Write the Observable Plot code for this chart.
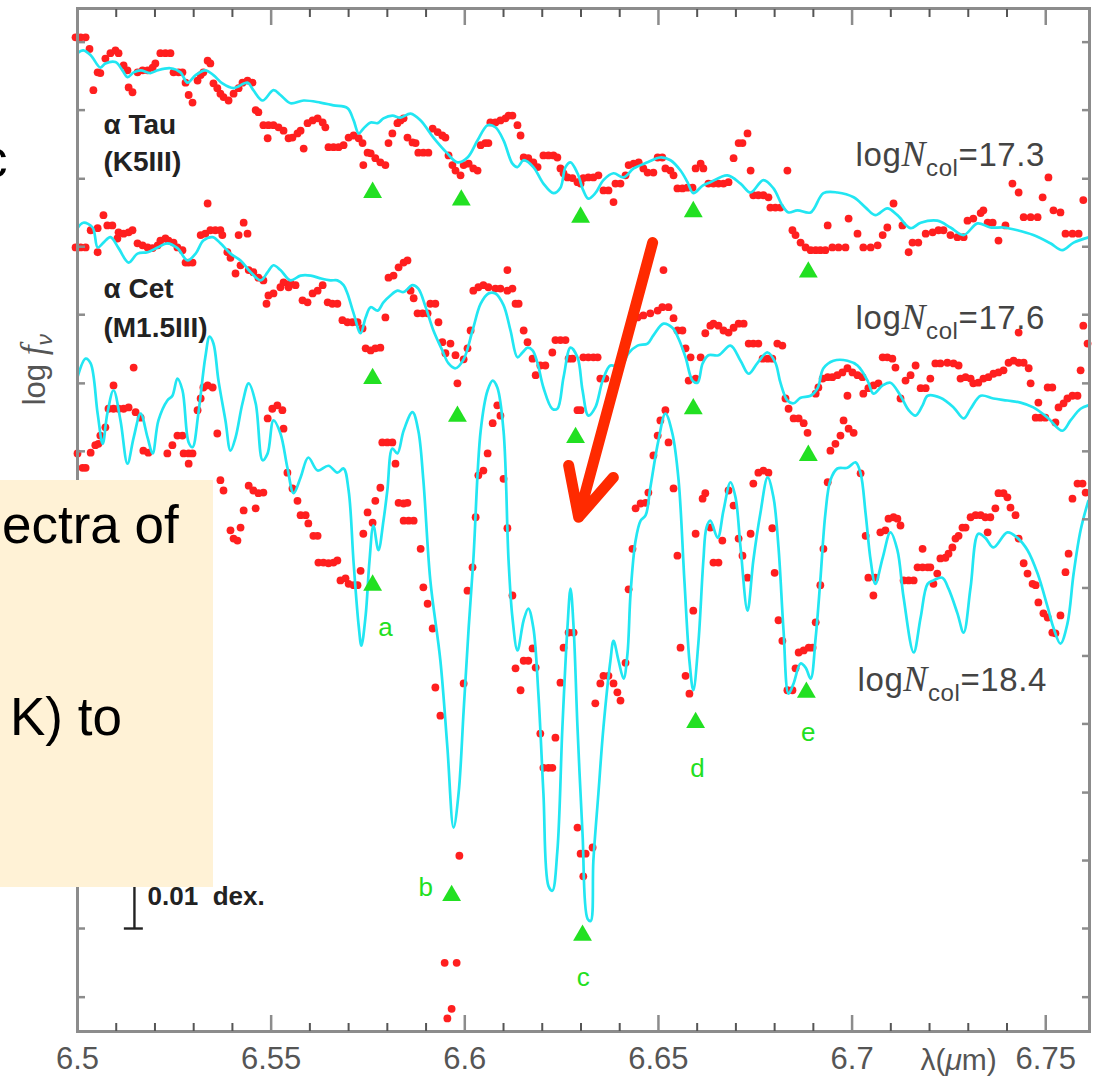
<!DOCTYPE html>
<html>
<head>
<meta charset="utf-8">
<script src="https://cdn.jsdelivr.net/npm/d3@7"></script>
<script src="https://cdn.jsdelivr.net/npm/@observablehq/plot@0.6"></script>
<style>
  html, body { margin: 0; padding: 0; background: #fff; }
  #wrap { position: relative; width: 1099px; height: 1084px; overflow: hidden; font-family: "Liberation Sans", Arial, sans-serif; }
  #wrap svg { position: absolute; left: 0; top: 0; }
  .note { position: absolute; left: 0; top: 480px; width: 213px; height: 407px; background: #fff2d6; overflow: hidden; }
  .big { position: absolute; font-size: 53px; line-height: 53px; color: #000; white-space: nowrap; font-family: "Liberation Sans", Arial, sans-serif; }
</style>
</head>
<body>
<div id="wrap"></div>
<script>
// ---------------- DATA (wavelength in µm, log f_nu in relative units) ----------------
const xTickValues = [6.5, 6.55, 6.6, 6.65, 6.7, 6.75];
const xTickLabels = ["6.5", "6.55", "6.6", "6.65", "6.7", "6.75"];
const xMinorTicks = [6.51,6.52,6.53,6.54,6.56,6.57,6.58,6.59,6.61,6.62,6.63,6.64,6.66,6.67,6.68,6.69,6.71,6.72,6.73,6.74];
const yTicks = [1.10,2.10,3.09,4.08,5.08,6.07,7.06,8.06,9.05,10.04,11.04,12.03,13.02,14.02,15.01];

// alpha Tau (K5III) observed
const tauObs = [[6.4995,15.08],[6.5008,15.08],[6.5021,15.08],[6.5031,14.91],[6.5041,14.31],[6.5052,14.57],[6.5059,14.56],[6.5072,14.77],[6.5085,14.85],[6.5098,14.89],[6.5106,14.85],[6.5119,14.67],[6.5129,14.60],[6.5132,14.35],[6.5142,14.28],[6.5155,14.57],[6.5168,14.60],[6.5181,14.60],[6.5194,14.64],[6.5201,14.70],[6.5214,14.85],[6.5227,14.85],[6.5240,14.85],[6.5248,14.57],[6.5261,14.57],[6.5271,14.57],[6.5279,14.42],[6.5287,14.24],[6.5297,14.13],[6.5310,14.45],[6.5318,14.53],[6.5325,14.57],[6.5336,14.74],[6.5343,14.70],[6.5351,14.41],[6.5361,14.34],[6.5369,14.26],[6.5377,14.21],[6.5390,14.16],[6.5403,14.26],[6.5416,14.34],[6.5426,14.42],[6.5439,14.45],[6.5452,14.42],[6.5460,14.02],[6.5467,13.99],[6.5480,13.80],[6.5491,13.61],[6.5493,13.80],[6.5506,13.80],[6.5519,13.77],[6.5532,13.72],[6.5545,13.61],[6.5555,13.62],[6.5568,13.68],[6.5576,13.72],[6.5584,13.46],[6.5594,13.83],[6.5607,13.87],[6.5620,13.90],[6.5633,13.84],[6.5640,13.77],[6.5648,13.48],[6.5661,13.48],[6.5674,13.48],[6.5687,13.51],[6.5700,13.62],[6.5713,13.65],[6.5726,13.61],[6.5736,13.54],[6.5738,13.22],[6.5749,13.40],[6.5757,13.39],[6.5769,13.32],[6.5782,13.26],[6.5795,13.22],[6.5803,13.54],[6.5813,13.68],[6.5826,13.83],[6.5834,13.87],[6.5842,13.90],[6.5852,13.62],[6.5865,13.55],[6.5873,13.54],[6.5880,13.40],[6.5893,13.40],[6.5906,13.40],[6.5917,13.75],[6.5930,13.70],[6.5942,13.65],[6.5950,13.62],[6.5958,13.36],[6.5968,13.22],[6.5976,13.14],[6.5989,13.07],[6.5997,13.22],[6.6010,13.24],[6.6022,13.17],[6.6033,13.14],[6.6041,13.51],[6.6053,13.54],[6.6061,13.54],[6.6066,13.84],[6.6079,13.84],[6.6092,13.87],[6.6105,13.90],[6.6113,13.94],[6.6123,13.94],[6.6136,13.80],[6.6144,13.65],[6.6152,13.33],[6.6164,13.32],[6.6177,13.26],[6.6188,13.19],[6.6203,13.36],[6.6216,13.36],[6.6229,13.36],[6.6239,13.33],[6.6247,13.17],[6.6255,13.10],[6.6265,13.04],[6.6278,13.03],[6.6291,12.97],[6.6299,12.95],[6.6306,13.03],[6.6319,13.04],[6.6332,13.04],[6.6345,13.07],[6.6358,12.85],[6.6371,12.85],[6.6384,12.68],[6.6389,12.95],[6.6402,12.95],[6.6415,13.07],[6.6423,13.22],[6.6436,13.24],[6.6449,13.26],[6.6461,13.17],[6.6472,13.11],[6.6487,13.11],[6.6498,13.33],[6.6510,13.33],[6.6518,13.17],[6.6531,13.14],[6.6539,13.07],[6.6549,12.88],[6.6562,12.88],[6.6575,12.89],[6.6588,12.89],[6.6596,13.17],[6.6609,13.24],[6.6616,13.17],[6.6629,12.95],[6.6642,12.95],[6.6655,12.95],[6.6668,12.95],[6.6681,12.97],[6.6694,13.32],[6.6707,13.54],[6.6717,13.54],[6.6730,13.68],[6.6738,13.14],[6.6745,12.78],[6.6758,12.78],[6.6771,12.78],[6.6784,12.75],[6.6789,12.60],[6.6802,12.60],[6.6815,12.60],[6.6833,13.14],[6.6846,12.27],[6.6854,12.20],[6.6867,12.09],[6.6880,12.02],[6.6893,11.98],[6.6906,11.98],[6.6918,11.98],[6.6931,11.98],[6.6937,12.34],[6.6949,12.02],[6.6965,12.02],[6.6983,12.02],[6.6991,12.44],[6.7014,12.22],[6.7029,12.02],[6.7048,12.02],[6.7066,12.05],[6.7079,12.20],[6.7091,12.31],[6.7107,12.66],[6.7130,12.34],[6.7146,11.95],[6.7156,12.09],[6.7171,12.09],[6.7190,12.22],[6.7208,12.24],[6.7223,12.27],[6.7236,12.27],[6.7254,12.20],[6.7272,12.17],[6.7288,12.17],[6.7298,12.41],[6.7313,12.44],[6.7332,12.52],[6.7339,12.56],[6.7350,12.38],[6.7363,12.38],[6.7378,12.12],[6.7396,12.34],[6.7414,12.95],[6.7430,12.82],[6.7443,12.46],[6.7461,12.46],[6.7479,12.46],[6.7492,12.75],[6.7507,13.04],[6.7520,12.56],[6.7538,12.53],[6.7551,12.22],[6.7569,12.22],[6.7585,12.22],[6.7597,12.71]];

// alpha Tau model
const tauModel = [[6.5000,14.85],[6.5015,14.89],[6.5034,14.82],[6.5059,14.64],[6.5072,14.70],[6.5098,14.72],[6.5116,14.60],[6.5129,14.50],[6.5145,14.57],[6.5163,14.60],[6.5188,14.56],[6.5207,14.60],[6.5240,14.63],[6.5266,14.57],[6.5284,14.42],[6.5305,14.53],[6.5330,14.60],[6.5351,14.53],[6.5374,14.41],[6.5403,14.34],[6.5439,14.42],[6.5454,14.31],[6.5478,14.16],[6.5506,14.31],[6.5524,14.24],[6.5550,14.12],[6.5584,14.16],[6.5627,14.13],[6.5661,14.09],[6.5697,14.05],[6.5713,13.87],[6.5726,13.68],[6.5738,13.75],[6.5757,13.84],[6.5775,13.83],[6.5790,13.90],[6.5813,13.94],[6.5834,13.91],[6.5860,13.97],[6.5886,13.87],[6.5919,13.62],[6.5955,13.39],[6.5981,13.26],[6.6007,13.33],[6.6033,13.58],[6.6059,13.80],[6.6079,13.77],[6.6100,13.58],[6.6123,13.24],[6.6136,13.19],[6.6152,13.29],[6.6177,13.19],[6.6203,12.95],[6.6229,12.81],[6.6247,12.89],[6.6260,13.19],[6.6273,13.26],[6.6291,13.10],[6.6306,12.85],[6.6319,12.73],[6.6337,12.81],[6.6358,13.00],[6.6384,13.10],[6.6410,13.04],[6.6436,13.17],[6.6472,13.26],[6.6505,13.33],[6.6531,13.29],[6.6557,13.14],[6.6575,12.97],[6.6590,12.81],[6.6614,12.92],[6.6634,12.97],[6.6678,13.07],[6.6712,12.95],[6.6738,12.82],[6.6771,13.00],[6.6797,12.88],[6.6820,12.63],[6.6836,12.53],[6.6859,12.56],[6.6893,12.53],[6.6926,12.81],[6.6962,12.82],[6.7004,12.75],[6.7035,12.60],[6.7060,12.49],[6.7091,12.59],[6.7117,12.49],[6.7151,12.30],[6.7177,12.38],[6.7220,12.41],[6.7254,12.31],[6.7288,12.20],[6.7324,12.37],[6.7357,12.31],[6.7391,12.31],[6.7427,12.27],[6.7468,12.20],[6.7512,12.08],[6.7543,11.98],[6.7572,12.09],[6.7613,12.17]];

// alpha Cet (M1.5III) observed
const cetObs = [[6.4995,12.02],[6.5008,12.02],[6.5021,12.02],[6.5034,12.27],[6.5052,12.30],[6.5052,11.95],[6.5067,12.49],[6.5077,12.34],[6.5090,12.34],[6.5103,12.15],[6.5106,12.24],[6.5119,12.22],[6.5132,12.24],[6.5142,12.27],[6.5155,12.08],[6.5168,12.05],[6.5181,12.02],[6.5194,12.01],[6.5207,12.05],[6.5214,12.12],[6.5227,12.15],[6.5235,12.12],[6.5248,12.09],[6.5258,12.02],[6.5271,11.98],[6.5279,11.80],[6.5287,11.80],[6.5297,11.80],[6.5318,12.20],[6.5330,12.22],[6.5336,12.66],[6.5343,12.27],[6.5356,12.27],[6.5369,12.27],[6.5374,12.20],[6.5387,11.95],[6.5395,11.87],[6.5408,11.64],[6.5416,12.20],[6.5429,12.38],[6.5439,12.22],[6.5421,11.76],[6.5442,11.69],[6.5454,11.66],[6.5467,11.58],[6.5480,11.54],[6.5488,11.20],[6.5493,11.32],[6.5506,11.35],[6.5524,11.44],[6.5532,11.51],[6.5545,11.44],[6.5550,11.50],[6.5563,11.47],[6.5581,11.25],[6.5594,11.22],[6.5607,11.35],[6.5620,11.39],[6.5633,11.47],[6.5646,11.22],[6.5658,11.20],[6.5671,11.20],[6.5684,10.96],[6.5697,10.93],[6.5710,10.93],[6.5723,10.93],[6.5736,10.84],[6.5744,10.55],[6.5757,10.52],[6.5769,10.55],[6.5782,10.56],[6.5795,11.00],[6.5803,11.58],[6.5816,11.61],[6.5829,11.73],[6.5842,11.80],[6.5852,11.83],[6.5860,11.39],[6.5868,11.28],[6.5878,11.06],[6.5891,11.06],[6.5904,11.06],[6.5911,11.20],[6.5924,11.20],[6.5932,10.93],[6.5942,10.64],[6.5950,10.48],[6.5963,10.62],[6.5976,10.45],[6.5981,10.04],[6.5997,10.39],[6.6007,10.55],[6.6015,10.81],[6.6022,11.39],[6.6035,11.44],[6.6048,11.47],[6.6061,11.44],[6.6079,11.42],[6.6092,11.42],[6.6110,11.69],[6.6110,11.39],[6.6123,11.42],[6.6131,11.20],[6.6139,11.20],[6.6152,10.81],[6.6162,10.64],[6.6175,10.40],[6.6183,10.16],[6.6195,10.30],[6.6208,10.30],[6.6226,10.49],[6.6234,10.67],[6.6247,10.67],[6.6260,10.67],[6.6268,10.40],[6.6278,10.40],[6.6291,9.65],[6.6299,9.65],[6.6306,10.42],[6.6319,10.42],[6.6332,10.42],[6.6343,10.42],[6.6350,10.11],[6.6363,10.11],[6.6446,11.00],[6.6461,11.03],[6.6479,11.06],[6.6498,11.10],[6.6510,11.15],[6.6513,11.69],[6.6526,11.15],[6.6539,10.99],[6.6549,10.81],[6.6562,10.81],[6.6570,10.55],[6.6578,10.08],[6.6583,10.42],[6.6596,10.11],[6.6609,10.42],[6.6621,10.77],[6.6634,10.88],[6.6642,10.91],[6.6655,10.88],[6.6668,10.81],[6.6681,10.78],[6.6694,10.85],[6.6707,10.91],[6.6720,10.91],[6.6733,10.62],[6.6745,10.62],[6.6758,10.62],[6.6769,10.40],[6.6782,10.40],[6.6794,10.40],[6.6807,10.62],[6.6820,10.59],[6.6828,9.82],[6.6836,9.67],[6.6849,9.53],[6.6862,9.53],[6.6875,9.46],[6.6885,9.32],[6.6906,9.89],[6.6913,9.98],[6.6924,10.11],[6.6937,10.13],[6.6949,10.13],[6.6944,9.06],[6.6957,9.16],[6.6970,9.28],[6.6978,9.50],[6.6991,9.38],[6.7004,9.32],[6.6962,10.16],[6.6975,10.20],[6.6988,10.26],[6.6988,9.86],[6.7001,10.20],[6.7014,10.16],[6.7027,10.13],[6.7029,9.89],[6.7042,9.97],[6.7055,10.01],[6.7068,10.04],[6.7079,10.42],[6.7091,10.42],[6.7104,10.40],[6.7112,10.27],[6.7125,9.82],[6.7138,10.08],[6.7151,10.16],[6.7164,10.30],[6.7177,9.97],[6.7190,9.97],[6.7202,10.11],[6.7215,10.33],[6.7228,10.33],[6.7246,10.34],[6.7262,10.33],[6.7275,10.30],[6.7280,10.11],[6.7293,10.13],[6.7306,10.11],[6.7313,10.04],[6.7326,10.05],[6.7339,10.11],[6.7352,10.13],[6.7365,10.18],[6.7378,10.20],[6.7391,10.23],[6.7404,10.34],[6.7417,10.37],[6.7430,10.34],[6.7430,10.78],[6.7443,10.34],[6.7456,10.26],[6.7461,10.04],[6.7474,9.54],[6.7481,9.76],[6.7486,9.54],[6.7499,9.54],[6.7505,9.98],[6.7517,9.98],[6.7525,9.47],[6.7533,9.69],[6.7546,9.75],[6.7556,9.82],[6.7569,9.86],[6.7582,9.86],[6.7590,10.23],[6.7597,10.88],[6.7608,10.62]];

// alpha Cet model
const cetModel = [[6.5000,12.30],[6.5015,12.38],[6.5039,12.31],[6.5052,12.02],[6.5067,12.09],[6.5085,12.17],[6.5106,12.01],[6.5132,11.80],[6.5155,11.93],[6.5181,11.95],[6.5207,12.02],[6.5232,12.08],[6.5258,12.01],[6.5284,11.83],[6.5305,11.93],[6.5325,12.12],[6.5349,12.17],[6.5369,12.08],[6.5395,11.93],[6.5421,11.83],[6.5447,11.66],[6.5473,11.54],[6.5491,11.66],[6.5506,11.76],[6.5524,11.69],[6.5550,11.54],[6.5576,11.61],[6.5602,11.61],[6.5627,11.57],[6.5653,11.54],[6.5671,11.54],[6.5687,11.47],[6.5697,11.35],[6.5713,11.06],[6.5731,10.77],[6.5744,11.00],[6.5757,11.15],[6.5775,11.10],[6.5790,11.22],[6.5808,11.32],[6.5826,11.39],[6.5842,11.37],[6.5865,11.47],[6.5880,11.42],[6.5899,11.15],[6.5919,10.81],[6.5942,10.52],[6.5958,10.33],[6.5976,10.26],[6.5997,10.39],[6.6020,10.81],[6.6041,11.20],[6.6061,11.35],[6.6079,11.35],[6.6100,11.18],[6.6118,10.81],[6.6136,10.42],[6.6149,10.49],[6.6162,10.56],[6.6175,10.52],[6.6188,10.33],[6.6203,9.98],[6.6226,9.67],[6.6239,9.67],[6.6255,10.13],[6.6273,10.56],[6.6291,10.42],[6.6304,9.94],[6.6319,9.57],[6.6337,9.69],[6.6356,10.08],[6.6376,10.30],[6.6402,10.27],[6.6423,10.48],[6.6446,10.59],[6.6472,10.62],[6.6487,10.74],[6.6513,10.91],[6.6536,10.85],[6.6552,10.69],[6.6570,10.42],[6.6588,10.08],[6.6601,10.05],[6.6614,10.33],[6.6629,10.45],[6.6655,10.45],[6.6686,10.59],[6.6712,10.37],[6.6733,10.18],[6.6756,10.34],[6.6782,10.49],[6.6802,10.34],[6.6815,10.05],[6.6833,9.79],[6.6849,9.75],[6.6867,9.83],[6.6893,9.86],[6.6911,9.97],[6.6926,10.26],[6.6952,10.37],[6.6988,10.37],[6.7014,10.30],[6.7040,10.08],[6.7055,9.89],[6.7079,10.01],[6.7099,10.05],[6.7125,9.86],[6.7146,9.65],[6.7164,9.57],[6.7182,9.72],[6.7195,9.86],[6.7228,9.83],[6.7262,9.69],[6.7288,9.53],[6.7306,9.67],[6.7332,9.86],[6.7365,9.82],[6.7401,9.79],[6.7435,9.76],[6.7468,9.69],[6.7505,9.54],[6.7543,9.35],[6.7564,9.50],[6.7590,9.67],[6.7610,9.72]];

// third star (logN_col = 18.4) observed
const botObs = [[6.5000,9.02],[6.5013,8.81],[6.5021,8.81],[6.5034,9.03],[6.5046,9.14],[6.5054,9.16],[6.5059,9.28],[6.5072,9.40],[6.5080,9.67],[6.5093,10.01],[6.5093,9.67],[6.5106,9.67],[6.5119,9.67],[6.5132,9.69],[6.5145,10.27],[6.5150,9.62],[6.5163,9.54],[6.5170,9.06],[6.5183,9.03],[6.5232,9.02],[6.5245,9.14],[6.5258,9.28],[6.5271,9.28],[6.5274,9.02],[6.5287,9.02],[6.5297,9.02],[6.5287,8.87],[6.5310,9.65],[6.5318,9.82],[6.5325,9.98],[6.5336,10.01],[6.5349,9.98],[6.5361,9.31],[6.5369,8.63],[6.5377,8.48],[6.5395,7.90],[6.5403,7.78],[6.5413,7.75],[6.5421,7.94],[6.5429,8.19],[6.5442,8.55],[6.5454,8.48],[6.5467,8.44],[6.5480,8.45],[6.5460,8.22],[6.5491,9.53],[6.5503,9.67],[6.5516,9.72],[6.5529,9.65],[6.5532,9.38],[6.5542,8.74],[6.5555,8.51],[6.5568,8.33],[6.5576,8.12],[6.5589,8.12],[6.5596,8.00],[6.5609,7.82],[6.5620,7.82],[6.5622,7.43],[6.5635,7.43],[6.5648,7.42],[6.5661,7.43],[6.5671,7.46],[6.5679,7.17],[6.5692,7.20],[6.5700,7.12],[6.5713,7.10],[6.5723,7.10],[6.5731,7.31],[6.5738,7.85],[6.5749,8.16],[6.5762,8.01],[6.5769,8.33],[6.5782,8.52],[6.5787,9.18],[6.5800,9.18],[6.5813,9.18],[6.5821,8.87],[6.5829,8.30],[6.5842,8.29],[6.5852,8.30],[6.5842,8.04],[6.5855,8.04],[6.5868,8.04],[6.5886,7.63],[6.5893,7.07],[6.5904,6.83],[6.5917,6.47],[6.5924,5.61],[6.5937,5.20],[6.5948,1.60],[6.5955,0.79],[6.5966,0.93],[6.5979,1.60],[6.5986,3.16],[6.5997,5.67],[6.6007,7.02],[6.6020,7.36],[6.6028,8.09],[6.6035,8.70],[6.6048,8.77],[6.6059,9.02],[6.6072,9.46],[6.6084,9.72],[6.6092,9.57],[6.6100,8.65],[6.6110,7.93],[6.6123,6.95],[6.6131,5.89],[6.6144,5.57],[6.6152,6.00],[6.6164,6.00],[6.6175,6.18],[6.6183,5.90],[6.6195,4.94],[6.6203,4.44],[6.6216,4.44],[6.6226,4.44],[6.6234,4.88],[6.6247,5.68],[6.6255,6.19],[6.6268,6.41],[6.6281,6.41],[6.6291,3.57],[6.6299,3.19],[6.6312,3.19],[6.6306,2.86],[6.6330,3.28],[6.6337,5.38],[6.6350,5.67],[6.6358,5.78],[6.6371,5.78],[6.6384,5.67],[6.6394,5.54],[6.6402,5.42],[6.6415,5.97],[6.6423,7.04],[6.6433,7.63],[6.6441,8.22],[6.6454,8.29],[6.6467,8.30],[6.6474,8.45],[6.6487,8.99],[6.6498,9.28],[6.6505,9.50],[6.6518,9.65],[6.6526,9.18],[6.6539,8.51],[6.6549,7.53],[6.6557,6.19],[6.6570,5.78],[6.6580,5.52],[6.6590,6.73],[6.6596,7.85],[6.6614,8.36],[6.6621,8.44],[6.6634,7.94],[6.6642,7.43],[6.6655,7.43],[6.6665,7.75],[6.6681,8.48],[6.6694,8.26],[6.6707,7.78],[6.6717,7.53],[6.6730,7.21],[6.6738,7.85],[6.6745,8.58],[6.6758,8.74],[6.6771,8.77],[6.6784,8.74],[6.6794,7.93],[6.6800,7.28],[6.6810,6.59],[6.6820,6.29],[6.6833,5.57],[6.6846,5.57],[6.6854,5.89],[6.6862,6.12],[6.6875,6.15],[6.6888,6.19],[6.6898,6.19],[6.6906,6.56],[6.6918,7.10],[6.6926,7.63],[6.6937,8.60],[6.7022,8.73],[6.7035,7.82],[6.7042,7.21],[6.7055,6.95],[6.7060,7.21],[6.7073,7.87],[6.7086,7.90],[6.7094,8.07],[6.7107,8.09],[6.7117,8.07],[6.7125,7.97],[6.7133,7.17],[6.7146,7.17],[6.7159,7.17],[6.7169,7.36],[6.7182,7.63],[6.7182,7.36],[6.7195,7.36],[6.7202,7.36],[6.7210,7.12],[6.7220,7.27],[6.7228,7.49],[6.7241,7.50],[6.7249,7.56],[6.7259,7.65],[6.7267,7.78],[6.7275,7.82],[6.7285,7.94],[6.7293,7.94],[6.7306,8.09],[6.7319,8.12],[6.7332,8.12],[6.7344,8.09],[6.7350,7.87],[6.7357,8.09],[6.7370,8.22],[6.7378,8.44],[6.7391,8.44],[6.7401,8.38],[6.7409,8.23],[6.7422,8.12],[6.7430,7.78],[6.7443,7.42],[6.7453,7.27],[6.7466,7.12],[6.7474,7.10],[6.7481,6.85],[6.7494,6.69],[6.7505,6.63],[6.7517,6.41],[6.7525,6.40],[6.7538,6.66],[6.7551,7.29],[6.7559,7.56],[6.7569,8.36],[6.7582,8.58],[6.7595,8.58],[6.7603,8.45]];

// third star model
const botModel = [[6.5000,10.13],[6.5021,10.40],[6.5034,10.33],[6.5052,9.60],[6.5065,9.16],[6.5077,9.60],[6.5093,9.94],[6.5111,9.50],[6.5129,8.87],[6.5145,9.25],[6.5163,9.60],[6.5181,9.25],[6.5194,9.02],[6.5209,9.50],[6.5232,9.79],[6.5245,9.86],[6.5258,10.11],[6.5271,9.94],[6.5287,9.18],[6.5297,9.11],[6.5312,9.60],[6.5330,10.42],[6.5341,10.72],[6.5351,10.62],[6.5364,10.08],[6.5382,9.50],[6.5395,9.06],[6.5408,9.25],[6.5426,9.75],[6.5442,10.04],[6.5460,9.75],[6.5478,8.92],[6.5491,9.02],[6.5506,9.50],[6.5524,9.31],[6.5542,8.81],[6.5558,8.44],[6.5576,8.67],[6.5596,8.96],[6.5620,8.77],[6.5648,8.84],[6.5671,8.74],[6.5687,8.80],[6.5700,8.48],[6.5713,7.42],[6.5726,6.51],[6.5733,6.22],[6.5744,6.66],[6.5754,7.46],[6.5764,7.97],[6.5777,7.61],[6.5790,8.04],[6.5800,8.48],[6.5813,9.09],[6.5826,9.02],[6.5842,9.35],[6.5865,9.62],[6.5880,9.35],[6.5893,8.63],[6.5911,7.17],[6.5937,6.00],[6.5955,4.74],[6.5971,3.57],[6.5984,4.07],[6.5997,5.27],[6.6010,6.48],[6.6022,7.46],[6.6041,9.35],[6.6059,9.94],[6.6072,10.08],[6.6084,9.98],[6.6100,9.35],[6.6113,7.46],[6.6123,6.63],[6.6136,6.15],[6.6152,6.59],[6.6164,6.76],[6.6177,6.48],[6.6190,5.52],[6.6203,4.07],[6.6216,2.72],[6.6226,2.65],[6.6239,3.23],[6.6252,5.03],[6.6265,6.48],[6.6273,7.05],[6.6281,6.48],[6.6291,5.03],[6.6304,3.48],[6.6317,2.24],[6.6325,2.21],[6.6332,3.09],[6.6345,4.07],[6.6358,5.03],[6.6376,6.00],[6.6384,6.29],[6.6397,6.00],[6.6410,5.74],[6.6420,6.10],[6.6428,6.98],[6.6441,7.75],[6.6454,8.04],[6.6467,8.12],[6.6479,8.52],[6.6500,9.21],[6.6518,9.60],[6.6536,9.31],[6.6552,8.63],[6.6567,7.17],[6.6580,6.00],[6.6590,5.57],[6.6603,6.25],[6.6616,7.46],[6.6624,7.94],[6.6634,8.04],[6.6653,7.79],[6.6668,8.19],[6.6686,8.60],[6.6699,8.38],[6.6712,7.65],[6.6730,6.73],[6.6745,7.46],[6.6763,8.14],[6.6782,8.67],[6.6797,8.38],[6.6810,7.65],[6.6823,6.44],[6.6836,5.52],[6.6849,5.67],[6.6867,5.96],[6.6880,5.90],[6.6893,5.74],[6.6906,6.34],[6.6918,7.17],[6.6931,8.14],[6.6944,8.63],[6.6962,8.80],[6.6988,8.81],[6.7009,8.89],[6.7022,8.73],[6.7035,8.14],[6.7048,7.46],[6.7060,7.12],[6.7079,7.50],[6.7099,7.87],[6.7117,7.61],[6.7133,6.92],[6.7159,6.12],[6.7177,6.63],[6.7195,7.12],[6.7210,7.17],[6.7233,7.21],[6.7249,7.05],[6.7272,6.69],[6.7288,6.41],[6.7306,7.07],[6.7326,7.85],[6.7344,7.79],[6.7365,7.65],[6.7401,7.87],[6.7427,7.79],[6.7453,7.61],[6.7479,7.27],[6.7505,6.78],[6.7520,6.48],[6.7538,6.25],[6.7556,6.54],[6.7572,7.27],[6.7590,7.90],[6.7610,8.33]];

// line identifications (green triangles) and letters
const markerLambda = [6.5762,6.5991,6.6299,6.6590,6.6887, 6.5762,6.5981,6.6286,6.6590,6.6887, 6.5762,6.5966,6.6304,6.6596,6.6882];
const markerFlux   = [12.82,12.71,12.46,12.54,11.66, 10.11,9.56,9.25,9.67,8.99, 7.10,2.58,2.00,5.10,5.54];
const letterText   = ["a","b","c","d","e"];
const letterLambda = [6.5795,6.5899,6.6306,6.6601,6.6887];
const letterFlux   = [6.48,2.70,1.38,4.43,4.95];

// labels
const starNames  = ["α Tau","(K5III)","α Cet","(M1.5III)"];
const starLambda = [6.5067,6.5067,6.5067,6.5067];
const starFlux   = [13.81,13.26,11.41,10.85];
const nColValues = ["17.3","17.6","18.4"];
const nColLambda = [6.7009,6.7009,6.7014];
const nColFlux   = [13.36,10.99,5.71];

// annotation arrow and scale bar (data units)
const arrowNote = [{x1: 6.6485, y1: 12.09, x2: 6.6294, y2: 8.09}];
const scaleBar  = {lambda: 6.5147, from: 2.10, to: 3.09, capFrom: 6.5121, capTo: 6.5170, label: "0.01  dex.", labelLambda: 6.5181, labelFlux: 2.57};

// ---------------- CHART ----------------
const RED = "#ff1f1f", CYAN = "#22e6f2", GREEN = "#22e022", AXIS = "#8c8c8c", TICK = "#555";
const P = d => d[0], Q = d => d[1];
const markers = markerLambda.map((x, i) => ({x, y: markerFlux[i]}));
const letters = letterText.map((t, i) => ({t, x: letterLambda[i], y: letterFlux[i]}));
const stars = starNames.map((t, i) => ({t, x: starLambda[i], y: starFlux[i]}));
const ncols = nColValues.map((t, i) => ({t: "logN_col=" + t, v: t, x: nColLambda[i], y: nColFlux[i]}));

const chart = Plot.plot({
  width: 1099, height: 1084,
  marginLeft: 77, marginRight: 10, marginTop: 8, marginBottom: 53,
  style: {fontFamily: '"Liberation Sans", Arial, sans-serif', background: "transparent", overflow: "visible"},
  x: {domain: [6.5, 6.7613], axis: null},
  y: {domain: [0.60, 15.50], axis: null},
  marks: [
    Plot.dot(tauObs, {x: P, y: Q, r: 3.9, fill: RED}),
    Plot.dot(cetObs, {x: P, y: Q, r: 3.9, fill: RED}),
    Plot.dot(botObs, {x: P, y: Q, r: 3.9, fill: RED}),
    Plot.line(tauModel, {x: P, y: Q, stroke: CYAN, strokeWidth: 2.7, curve: "catmull-rom"}),
    Plot.line(cetModel, {x: P, y: Q, stroke: CYAN, strokeWidth: 2.7, curve: "catmull-rom"}),
    Plot.line(botModel, {x: P, y: Q, stroke: CYAN, strokeWidth: 2.7, curve: "catmull-rom"}),
    Plot.dot(markers, {x: "x", y: "y", symbol: "triangle", r: 7, fill: GREEN}),
    Plot.text(letters, {x: "x", y: "y", text: "t", fill: GREEN, fontSize: 26}),
    Plot.text(stars, {x: "x", y: "y", text: "t", textAnchor: "start", fontSize: 28, fontWeight: "bold", fill: "#222"}),
    Plot.text(ncols, {x: "x", y: "y", text: "t", textAnchor: "start", fontSize: 33, fill: "#444"}),
    // scale bar
    Plot.ruleX([scaleBar.lambda], {y1: scaleBar.from, y2: scaleBar.to, stroke: "#222", strokeWidth: 2.4}),
    Plot.ruleY([scaleBar.from], {x1: scaleBar.capFrom, x2: scaleBar.capTo, stroke: "#222", strokeWidth: 2.4}),
    Plot.text([scaleBar], {x: "labelLambda", y: "labelFlux", text: "label", textAnchor: "start", fontSize: 26, fontWeight: "bold", fill: "#222"}),
    // arrow
    Plot.arrow(arrowNote, {x1: "x1", y1: "y1", x2: "x2", y2: "y2", stroke: "#ff2a00", strokeWidth: 11, headAngle: 52, headLength: 7.2, strokeLinecap: "round", strokeLinejoin: "round"}),
    // frame and ticks
    Plot.frame({stroke: AXIS, strokeWidth: 3}),
    Plot.axisX(xMinorTicks, {anchor: "top", tickSize: -8, stroke: TICK, strokeWidth: 2, fill: "none", label: null}),
    Plot.axisX(xTickValues, {anchor: "top", tickSize: -16, stroke: AXIS, strokeWidth: 2.5, fill: "none", label: null}),
    Plot.axisX(xMinorTicks, {anchor: "bottom", tickSize: -8, stroke: TICK, strokeWidth: 2, fill: "none", label: null}),
    Plot.axisX(xTickValues, {anchor: "bottom", tickSize: -16, stroke: AXIS, strokeWidth: 2.5, fill: "none", label: null}),
    Plot.axisX(xTickValues, {anchor: "bottom", tickSize: 0, tickPadding: 15, tickFormat: d => xTickLabels[xTickValues.indexOf(d)], fontSize: 31, fill: "#555", label: null}),
    Plot.axisY(yTicks, {anchor: "left", tickSize: -8, stroke: AXIS, strokeWidth: 2.5, fill: "none", label: null}),
    Plot.axisY(yTicks, {anchor: "right", tickSize: -8, stroke: AXIS, strokeWidth: 2.5, fill: "none", label: null}),
    // axis titles
    Plot.text(["log fν"], {frameAnchor: "left", y: [9.72], dx: -42, rotate: -90, text: d => d, fontSize: 31, fill: "#555"}),
    Plot.text(["λ(μm)"], {frameAnchor: "bottom", x: [6.7275], dy: 38, text: d => d, fontSize: 30, fill: "#555"})
  ]
});

// rich text (italic / subscripts) for axis titles and column-density labels
function rich(el, parts) {
  const t = d3.select(el);
  t.text(null);
  for (const p of parts) {
    const s = t.append("tspan").text(p.text);
    if (p.italic) s.attr("font-style", "italic");
    if (p.family) s.attr("font-family", p.family);
    if (p.size) s.attr("font-size", p.size);
    if (p.dy) s.attr("dy", p.dy);
  }
}
d3.select(chart).selectAll("text").each(function() {
  const s = this.textContent;
  if (s === "log fν") {
    rich(this, [{text: "log "}, {text: "f", italic: true, family: '"Liberation Serif", serif', size: 35}, {text: "ν", italic: true, size: 23, dy: 7}]);
  } else if (s === "λ(μm)") {
    rich(this, [{text: "λ("}, {text: "μ", italic: true}, {text: "m)"}]);
  } else if (s.startsWith("logN_col=")) {
    const v = s.slice(9);
    d3.select(this).attr("letter-spacing", 0.6);
    rich(this, [{text: "log"}, {text: "N", italic: true, family: '"Liberation Serif", serif', size: 36}, {text: "col", size: 24, dy: 10}, {text: "=" + v, dy: -10}]);
  }
});
d3.select(chart).selectAll("text").filter(function() { return this.textContent === "0.01  dex."; }).style("white-space", "pre");

const wrap = document.getElementById("wrap");
wrap.appendChild(chart);

// overlay from the slide (partially covering the chart)
const frag = document.createElement("div");
frag.className = "big";
frag.style.left = "-19px"; frag.style.top = "132px";
frag.textContent = "c";
wrap.appendChild(frag);

const note = document.createElement("div");
note.className = "note";
const l1 = document.createElement("div"); l1.className = "big"; l1.style.left = "2px"; l1.style.top = "18px"; l1.textContent = "ectra of";
const l2 = document.createElement("div"); l2.className = "big"; l2.style.left = "10px"; l2.style.top = "210px"; l2.textContent = "K) to";
note.appendChild(l1); note.appendChild(l2);
wrap.appendChild(note);
</script>
</body>
</html>
